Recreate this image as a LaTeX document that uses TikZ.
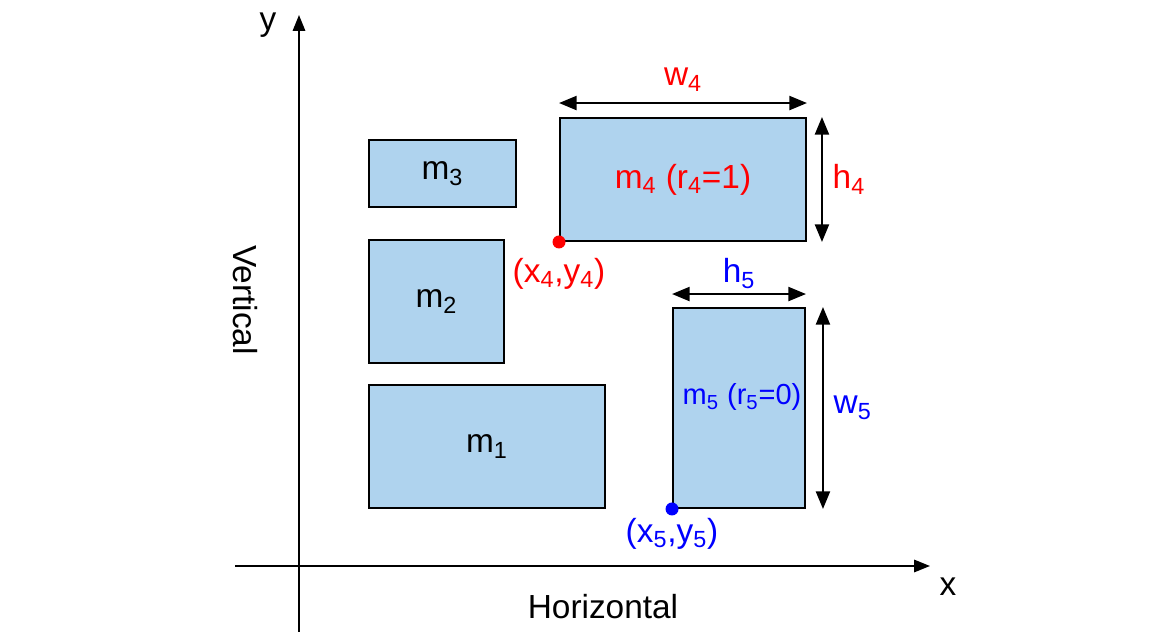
\documentclass[tikz,border=0pt]{standalone}
\usepackage{fontspec}
\setmainfont{Liberation Sans}
\usetikzlibrary{arrows.meta, calc, positioning}
\definecolor{cFill}{HTML}{AFD3EE}
\definecolor{cRojo}{HTML}{FF0000}
\definecolor{cAzul}{HTML}{0000FF}
\tikzset{
    blk/.style={draw=black, line width=1.1pt, fill=cFill, inner sep=0pt,
                font=\fontsize{19}{22}\selectfont},
    axis/.style={-{Triangle[length=9pt, width=7pt]}, line width=1.1pt},
    dim/.style={{Triangle[length=10pt, width=8pt]}-{Triangle[length=10pt, width=8pt]},
                line width=1.1pt},
    lbl/.style={font=\fontsize{19}{22}\selectfont, inner sep=1pt},
    dot/.style={circle, inner sep=0pt, minimum size=0.26cm},
}
\begin{document}
\begin{tikzpicture}[x=1cm, y=1cm]
\useasboundingbox (0,0) rectangle (23,12.64);

% ejes
\coordinate (yb) at (5.98,0);
\coordinate (yt) at (5.98,12.34);
\coordinate (xl) at (4.70,1.32);
\coordinate (xr) at (18.60,1.32);
\draw[axis] (yb) -- (yt);
\draw[axis] (xl) -- (xr);
\node[lbl] (ylab) at (5.36,12.14) {y};
\node[lbl] (xlab) at (18.96,0.90) {x};
\node[lbl] (hor) at (12.06,0.50) {Horizontal};
\node[lbl, rotate=-90] (ver) at (4.90,6.64) {Vertical};

% modulos
\node[blk, minimum width=2.94cm, minimum height=1.34cm] (m3) at (8.85,9.17) {m\textsubscript{3}};
\node[blk, minimum width=2.70cm, minimum height=2.46cm] (m2) at (8.73,6.61) {m\textsubscript{2}};
\node[blk, minimum width=4.72cm, minimum height=2.46cm] (m1) at (9.74,3.71) {m\textsubscript{1}};
\node[blk, minimum width=4.92cm, minimum height=2.46cm, text=cRojo] (m4) at (13.66,9.05)
     {m\textsubscript{4} (r\textsubscript{4}=1)};
\node[blk, minimum width=2.64cm, minimum height=4.00cm] (m5) at (14.78,4.48) {};
\node[lbl, text=cAzul, inner sep=0pt, font=\fontsize{16.5}{20}\selectfont] (m5t)
     at ([xshift=0.06cm, yshift=0.22cm]m5.center)
     {m\textsubscript{5} (r\textsubscript{5}=0)};

% m4: ancho y alto
\draw[dim] ([yshift=0.28cm]m4.north west) -- ([yshift=0.28cm]m4.north east)
     node[lbl, midway, above=0.18cm, text=cRojo] (w4) {w\textsubscript{4}};
\draw[dim] ([xshift=0.30cm]m4.north east) -- ([xshift=0.30cm]m4.south east)
     node[lbl, midway, right=0.16cm, text=cRojo] (h4) {h\textsubscript{4}};
\node[dot, fill=cRojo] (p4) at (m4.south west) {};
\node[lbl, text=cRojo, below=0.14cm of p4] (p4t) {(x\textsubscript{4},y\textsubscript{4})};

% m5: girado
\draw[dim] ([yshift=0.26cm]m5.north west) -- ([yshift=0.26cm]m5.north east)
     node[lbl, midway, above=0.06cm, text=cAzul] (h5) {h\textsubscript{5}};
\draw[dim] ([xshift=0.34cm]m5.north east) -- ([xshift=0.34cm]m5.south east)
     node[lbl, midway, right=0.16cm, text=cAzul] (w5) {w\textsubscript{5}};
\node[dot, fill=cAzul] (p5) at (m5.south west) {};
\node[lbl, text=cAzul, below=0.0cm of p5] (p5t) {(x\textsubscript{5},y\textsubscript{5})};

\end{tikzpicture}
\end{document}
